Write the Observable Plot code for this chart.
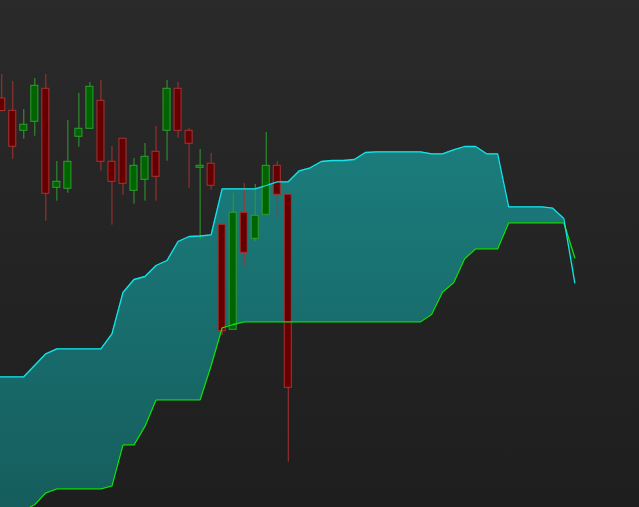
<!DOCTYPE html>
<html>
<head>
<meta charset="utf-8">
<script src="https://cdn.jsdelivr.net/npm/d3@7"></script>
<script src="https://cdn.jsdelivr.net/npm/@observablehq/plot@0.6"></script>
<style>
html, body { margin: 0; padding: 0; width: 639px; height: 507px; overflow: hidden;
  background: linear-gradient(#2a2a2a, #1e1e1e); }
#chart svg { display: block; }
</style>
</head>
<body>
<div id="chart"></div>
<script>
// Candles (price units, arbitrary), index 0..26
const candleOpen  = [409, 396.7, 376.7, 385.7, 418.7, 319.7, 318.7, 370.7, 378.7, 406.7, 345.7, 368.7, 316.7, 327.7, 355.7, 376.7, 418.7, 376.7, 339.7, 343.7, 282.7, 177.7, 294.7, 268.7, 292.7, 341.7, 312.7];
const candleClose = [396.5, 360.7, 382.7, 421.7, 313.7, 325.7, 345.7, 378.7, 420.7, 345.7, 325.7, 323.7, 341.7, 350.7, 330.7, 418.7, 376.7, 363.7, 341.7, 321.7, 176.3, 294.7, 254.7, 291.7, 341.7, 312.7, 119.7];
const candleHigh  = [433, 426, 398, 429, 433, 346, 387, 414, 425, 427, 361, 368.7, 349, 364, 381, 427, 425, 379, 358, 354, 282.7, 314, 324, 323, 375, 346, 312.7];
const candleLow   = [395.5, 348.3, 368.3, 371.3, 286.3, 306.3, 314.3, 360.3, 378.7, 336.3, 282.3, 312.3, 303.3, 306.3, 306.3, 346.3, 369.3, 319.3, 267.7, 317.3, 172, 177.7, 241.7, 265.7, 292.7, 288.7, 45.3];

// Cloud spans (same price units), shifted forward; first point is index -1
const cloudStart = -1;
const spanA = [130.7, 130.7, 130.7, 130.7, 142.2, 153.7, 158.7, 158.7, 158.7, 158.7, 158.7, 173.7, 215, 228, 231, 242, 247, 266, 271, 271.5, 272.7, 318.7, 318.7, 318.7, 318.7, 322, 325.7, 325.7, 336.7, 339.7, 346, 347, 347, 348, 355, 355.7, 355.7, 355.7, 355.7, 355.7, 353.7, 353.7, 357.7, 361, 361, 353.7, 353.7, 300.7, 300.7, 300.7, 300.7, 299.3, 289, 224.7];
const spanB = [-3, -3, -3, -3, 3, 14.7, 18.7, 18.7, 18.7, 18.7, 18.7, 21.7, 62.7, 62.7, 81.3, 107.7, 107.7, 107.7, 107.7, 107.7, 142, 179.7, 183, 185.7, 185.7, 185.7, 185.7, 185.7, 185.7, 185.7, 185.7, 185.7, 185.7, 185.7, 185.7, 185.7, 185.7, 185.7, 185.7, 185.7, 193, 215.5, 224.7, 248.7, 258.7, 258.7, 258.7, 284.7, 284.7, 284.7, 284.7, 284.7, 284.7, 249.7];

const candles = candleOpen.map((o, i) => ({
  k: i, open: o, close: candleClose[i], high: candleHigh[i], low: candleLow[i],
  up: candleClose[i] >= o
}));
const cloud = spanA.map((a, i) => ({k: i + cloudStart, a, b: spanB[i]}));
const lastK = cloud[cloud.length - 1].k;
const cloudMain = cloud.filter(d => d.k <= lastK - 1);
const cloudTail = cloud.filter(d => d.k >= lastK - 1);

const bodyHalf = 0.32;
const upC = candles.filter(d => d.up), dnC = candles.filter(d => !d.up);

const plot = Plot.plot({
  width: 639,
  height: 507,
  marginTop: 0, marginBottom: 0, marginLeft: 0, marginRight: 0,
  style: {background: "transparent"},
  x: {type: "linear", domain: [-0.1134, 57.87], axis: null},
  y: {domain: [0, 507], axis: null},
  marks: [
    Plot.areaY(cloudTail, {x: "k", y1: "b", y2: "a", fill: "#1c3a22", fillOpacity: 0.9}),
    Plot.areaY(cloudMain, {x: "k", y1: "b", y2: "a", fill: "url(#cloudGrad)"}),
    Plot.ruleX(upC, {x: "k", y1: "low", y2: "high", stroke: "#2f9e2f", strokeWidth: 1}),
    Plot.ruleX(dnC, {x: "k", y1: "low", y2: "high", stroke: "#a83232", strokeWidth: 1}),
    Plot.rect(upC, {x1: d => d.k - bodyHalf, x2: d => d.k + bodyHalf, y1: "open", y2: "close", fill: "#006400", stroke: "#2f9e2f", strokeWidth: 1}),
    Plot.rect(dnC, {x1: d => d.k - bodyHalf, x2: d => d.k + bodyHalf, y1: "open", y2: "close", fill: "#660000", stroke: "#a83232", strokeWidth: 1}),
    Plot.line(cloud, {x: "k", y: "b", stroke: "#10e010", strokeWidth: 1.3}),
    Plot.line(cloud, {x: "k", y: "a", stroke: "#10e4ea", strokeWidth: 1.3})
  ]
});

const ns = "http://www.w3.org/2000/svg";
const defs = document.createElementNS(ns, "defs");
defs.innerHTML = '<linearGradient id="cloudGrad" gradientUnits="userSpaceOnUse" x1="0" y1="150" x2="0" y2="507">' +
  '<stop offset="0" stop-color="#1b7c7c"/><stop offset="1" stop-color="#165d5d"/></linearGradient>';
plot.insertBefore(defs, plot.firstChild);
document.getElementById("chart").appendChild(plot);
</script>
</body>
</html>
